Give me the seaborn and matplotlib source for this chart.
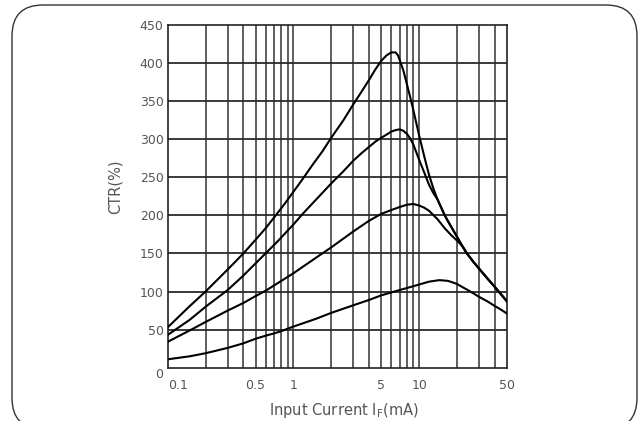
import numpy as np
import pandas as pd
import matplotlib
matplotlib.use("Agg")
import matplotlib.pyplot as plt
import seaborn as sns
from matplotlib.patches import FancyBboxPatch
from matplotlib.transforms import IdentityTransform
from matplotlib.ticker import FixedLocator, NullLocator, NullFormatter

# ---- data ----
c1_x = [0.1, 0.15, 0.2, 0.3, 0.4, 0.5, 0.6, 0.7, 0.85, 1.0, 1.2, 1.4, 1.7, 2.0, 2.5, 3.0, 3.5, 4.0, 4.5, 5.0, 5.5, 6.0, 6.5, 6.8, 7.0, 7.5, 8.0, 8.5, 9.0, 10, 11, 12, 13, 14, 15, 16, 17, 18, 20, 22, 24, 27, 30, 35, 40, 45, 50]
c1_y = [53, 81, 100, 129, 150, 168, 183, 197, 215, 231, 249, 265, 284, 302, 325, 346, 363, 378, 392, 403, 410, 414, 414, 410, 404, 390, 372, 355, 338, 305, 277, 253, 235, 221, 210, 200, 192, 185, 172, 160, 150, 139, 130, 117, 106, 96, 87]

c2_x = [0.1, 0.15, 0.2, 0.3, 0.4, 0.5, 0.6, 0.75, 0.9, 1.0, 1.2, 1.5, 2.0, 2.5, 3.0, 3.5, 4.0, 4.5, 5.0, 5.5, 6.0, 6.5, 7.0, 7.5, 8.0, 8.5, 9.0, 10, 11, 12, 13, 14, 15, 16, 17, 18, 20, 22, 24, 27, 30, 35, 40, 45, 50]
c2_y = [43, 63, 80, 102, 121, 137, 150, 166, 180, 188, 203, 220, 242, 258, 272, 282, 290, 297, 302, 306, 310, 312, 313, 311, 307, 301, 293, 273, 256, 240, 229, 221, 210, 200, 192, 185, 172, 160, 150, 139, 130, 117, 106, 96, 87]

c3_x = [0.1, 0.15, 0.2, 0.3, 0.4, 0.5, 0.6, 0.75, 1.0, 1.5, 2.0, 3.0, 4.0, 5.0, 6.0, 7.0, 8.0, 9.0, 10, 11, 12, 14, 16, 18, 20, 22, 24, 27, 30, 35, 40, 45, 50]
c3_y = [34, 49, 60, 75, 85, 94, 101, 111, 124, 144, 158, 179, 193, 202, 207, 211, 214, 215, 213, 210, 206, 195, 183, 174, 167, 160, 150, 139, 130, 117, 106, 96, 87]

c4_x = [0.1, 0.15, 0.2, 0.3, 0.4, 0.5, 0.6, 0.7, 0.8, 1.0, 1.5, 2.0, 3.0, 4.0, 5.0, 7.0, 9.0, 12, 14.5, 17, 20, 22, 25, 30, 35, 40, 45, 50]
c4_y = [11, 15, 19, 26, 32, 38, 42, 45, 48, 54, 64, 72, 82, 89, 95, 102, 107, 113, 115, 114, 110, 106, 101, 93, 87, 81, 76, 71]

x_ticks = [0.1, 0.5, 1, 5, 10, 50]
x_tick_labels = ["0.1", "0.5", "1", "5", "10", "50"]
y_ticks = [0, 50, 100, 150, 200, 250, 300, 350, 400, 450]
x_grid = [0.2, 0.3, 0.4, 0.5, 0.6, 0.7, 0.8, 0.9, 1, 2, 3, 4, 5, 6, 7, 8, 9, 10, 20, 30, 40]

sns.set_theme(style="white")
plt.rcParams['font.family'] = ['DejaVu Sans']

fig = plt.figure(figsize=(6.4, 4.21), dpi=100)
ax = fig.add_axes([167.7 / 640, 53.3 / 421, (507 - 167.7) / 640, (367.7 - 25) / 421])

for xs, ys in [(c1_x, c1_y), (c2_x, c2_y), (c3_x, c3_y), (c4_x, c4_y)]:
    df = pd.DataFrame({"I": xs, "CTR": ys})
    sns.lineplot(data=df, x="I", y="CTR", color="black", linewidth=1.5, ax=ax, zorder=5)

ax.set_xscale("log")
ax.set_xlim(0.1, 50)
ax.set_ylim(0, 450)

grid_col = "#2a2a2a"
for gx in x_grid:
    ax.axvline(gx, color="#333333", linewidth=1.1, zorder=1)
for gy in y_ticks[1:-1]:
    ax.axhline(gy, color=grid_col, linewidth=1.3, zorder=1)

ax.xaxis.set_major_locator(FixedLocator(x_ticks))
ax.xaxis.set_minor_locator(NullLocator())
ax.xaxis.set_minor_formatter(NullFormatter())
ax.set_xticklabels(x_tick_labels)
ax.set_yticks(y_ticks)
ax.set_yticklabels([str(v) for v in y_ticks])
ax.tick_params(axis="both", length=0, labelsize=9, labelcolor="#555555")
ax.tick_params(axis="x", pad=8)
ax.tick_params(axis="y", pad=3)

for lbl in ax.get_xticklabels():
    if lbl.get_text() == "0.1":
        lbl.set_ha("left")
for lbl in ax.get_yticklabels():
    if lbl.get_text() == "0":
        lbl.set_va("top")

ax.set_xlabel(r"Input Current I$_{\mathrm{F}}$(mA)", fontsize=10.5, color="#555555")
ax.xaxis.set_label_coords((344 - 167.7) / 339.3, (367.7 - 401) / 342.7)
ax.set_ylabel("CTR(%)", fontsize=10.5, color="#555555")
ax.yaxis.set_label_coords((123 - 167.7) / 339.3, (367.7 - 187) / 342.7)

for sp in ax.spines.values():
    sp.set_visible(True)
    sp.set_color("#222222")
    sp.set_linewidth(1.2)

border = FancyBboxPatch((12, -8), 625, 424, boxstyle="round,pad=0,rounding_size=31",
                        transform=IdentityTransform(), fill=False, edgecolor="#333333",
                        linewidth=1.0)
fig.add_artist(border)

fig.savefig("out.png", dpi=100)
